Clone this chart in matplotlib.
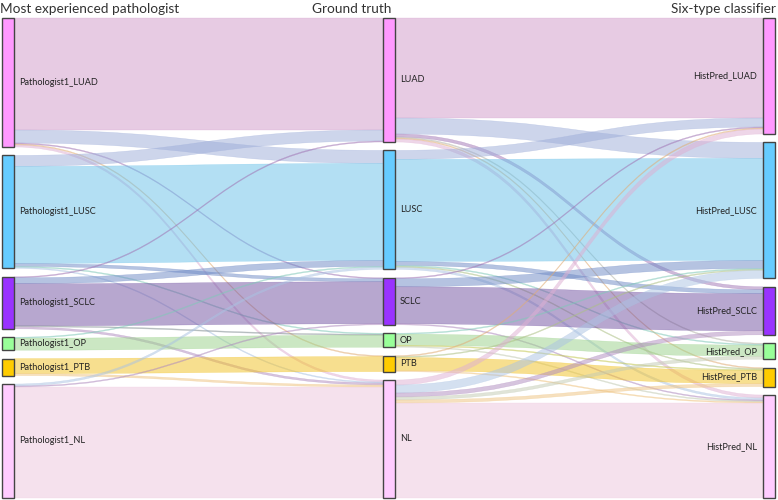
import matplotlib
matplotlib.use("Agg")
import numpy as np
import matplotlib.pyplot as plt
from matplotlib.colors import to_rgb
from matplotlib.path import Path
from matplotlib.patches import PathPatch, Rectangle

plt.rcParams["font.family"] = ["Lato", "DejaVu Sans"]

# categories for the three columns
types = ["LUAD", "LUSC", "SCLC", "OP", "PTB", "NL"]
left_labels = ["Pathologist1_" + t for t in types]
mid_labels = types
right_labels = ["HistPred_" + t for t in types]
titles = ["Most experienced pathologist", "Ground truth", "Six-type classifier"]

# flows (rows = source, cols = target)
path_to_truth = np.array([
    [112, 13, 1, 0, 1, 2],
    [11, 97, 3, 1, 0, 1],
    [1, 6, 42, 1, 0, 2],
    [0, 1, 0, 12, 0, 0],
    [0, 0, 0, 0, 15, 2],
    [0, 2, 1, 0, 0, 111],
])
truth_to_pred = np.array([
    [100, 16, 3, 1, 1, 3],
    [9, 102, 4, 1, 1, 2],
    [1, 8, 37, 0, 0, 1],
    [0, 1, 0, 11, 1, 1],
    [1, 1, 0, 0, 13, 1],
    [5, 8, 4, 3, 3, 95],
])

node_colors = ["#ff99ff", "#66ccff", "#9933ff", "#99ff99", "#ffcc00", "#ffccff"]
link_colors = ["#d199c9", "#69c1e9", "#7151a1", "#99d189", "#f1c121", "#edc5dd"]

W, H = 778, 500
TOP, BOT = 18, 498
NW = 12
col_x = [2, 383, 763]


def layout(sizes):
    gap = (BOT - TOP - sizes.sum()) / (len(sizes) - 1)
    tops = []
    y = TOP
    for s in sizes:
        tops.append(y)
        y += s + gap
    return np.array(tops)


left_sz = path_to_truth.sum(axis=1)
mid_sz = path_to_truth.sum(axis=0)
right_sz = truth_to_pred.sum(axis=0)
left_top, mid_top, right_top = layout(left_sz), layout(mid_sz), layout(right_sz)

fig = plt.figure(figsize=(W / 100, H / 100), dpi=100)
ax = fig.add_axes([0, 0, 1, 1])
ax.set_xlim(0, W)
ax.set_ylim(H, 0)
ax.axis("off")


def mix(i, j):
    a, b = np.array(to_rgb(link_colors[i])), np.array(to_rgb(link_colors[j]))
    return tuple((a + b) / 2)


def band(x0, x1, y0a, y0b, y1a, y1b, color):
    xm = (x0 + x1) / 2
    verts = [(x0, y0a), (xm, y0a), (xm, y1a), (x1, y1a),
             (x1, y1b), (xm, y1b), (xm, y0b), (x0, y0b), (x0, y0a)]
    codes = [Path.MOVETO, Path.CURVE4, Path.CURVE4, Path.CURVE4,
             Path.LINETO, Path.CURVE4, Path.CURVE4, Path.CURVE4, Path.CLOSEPOLY]
    ax.add_patch(PathPatch(Path(verts, codes), facecolor=color, edgecolor=color,
                           lw=0.3, alpha=0.5, zorder=1))


def draw_links(mat, src_top, dst_top, x0, x1):
    n = mat.shape[0]
    out_off = src_top.astype(float).copy()
    for i in range(n):
        for j in range(n):
            v = mat[i, j]
            if v <= 0:
                continue
            y1 = dst_top[j] + mat[:i, j].sum()
            band(x0, x1, out_off[i], out_off[i] + v, y1, y1 + v, mix(i, j))
            out_off[i] += v


draw_links(path_to_truth, left_top, mid_top, col_x[0] + NW, col_x[1])
draw_links(truth_to_pred, mid_top, right_top, col_x[1] + NW, col_x[2])

for x, tops, sizes, labels, side in [(col_x[0], left_top, left_sz, left_labels, "r"),
                                     (col_x[1], mid_top, mid_sz, mid_labels, "r"),
                                     (col_x[2], right_top, right_sz, right_labels, "l")]:
    for k, (t, s) in enumerate(zip(tops, sizes)):
        ax.add_patch(Rectangle((x, t), NW, s, facecolor=node_colors[k],
                               edgecolor="#444444", lw=1, zorder=3))
        if side == "r":
            ax.text(x + NW + 5, t + s / 2, labels[k], ha="left", va="center",
                    fontsize=6.6, color="#222222", zorder=4)
        else:
            ax.text(x - 6, t + s / 2, labels[k], ha="right", va="center",
                    fontsize=6.6, color="#222222", zorder=4)

ax.text(0, 9, titles[0], ha="left", va="center", fontsize=9.8, color="#333333")
ax.text(391, 9, titles[1], ha="right", va="center", fontsize=9.8, color="#333333")
ax.text(776, 9, titles[2], ha="right", va="center", fontsize=9.8, color="#333333")

fig.savefig("out.png", dpi=100)
